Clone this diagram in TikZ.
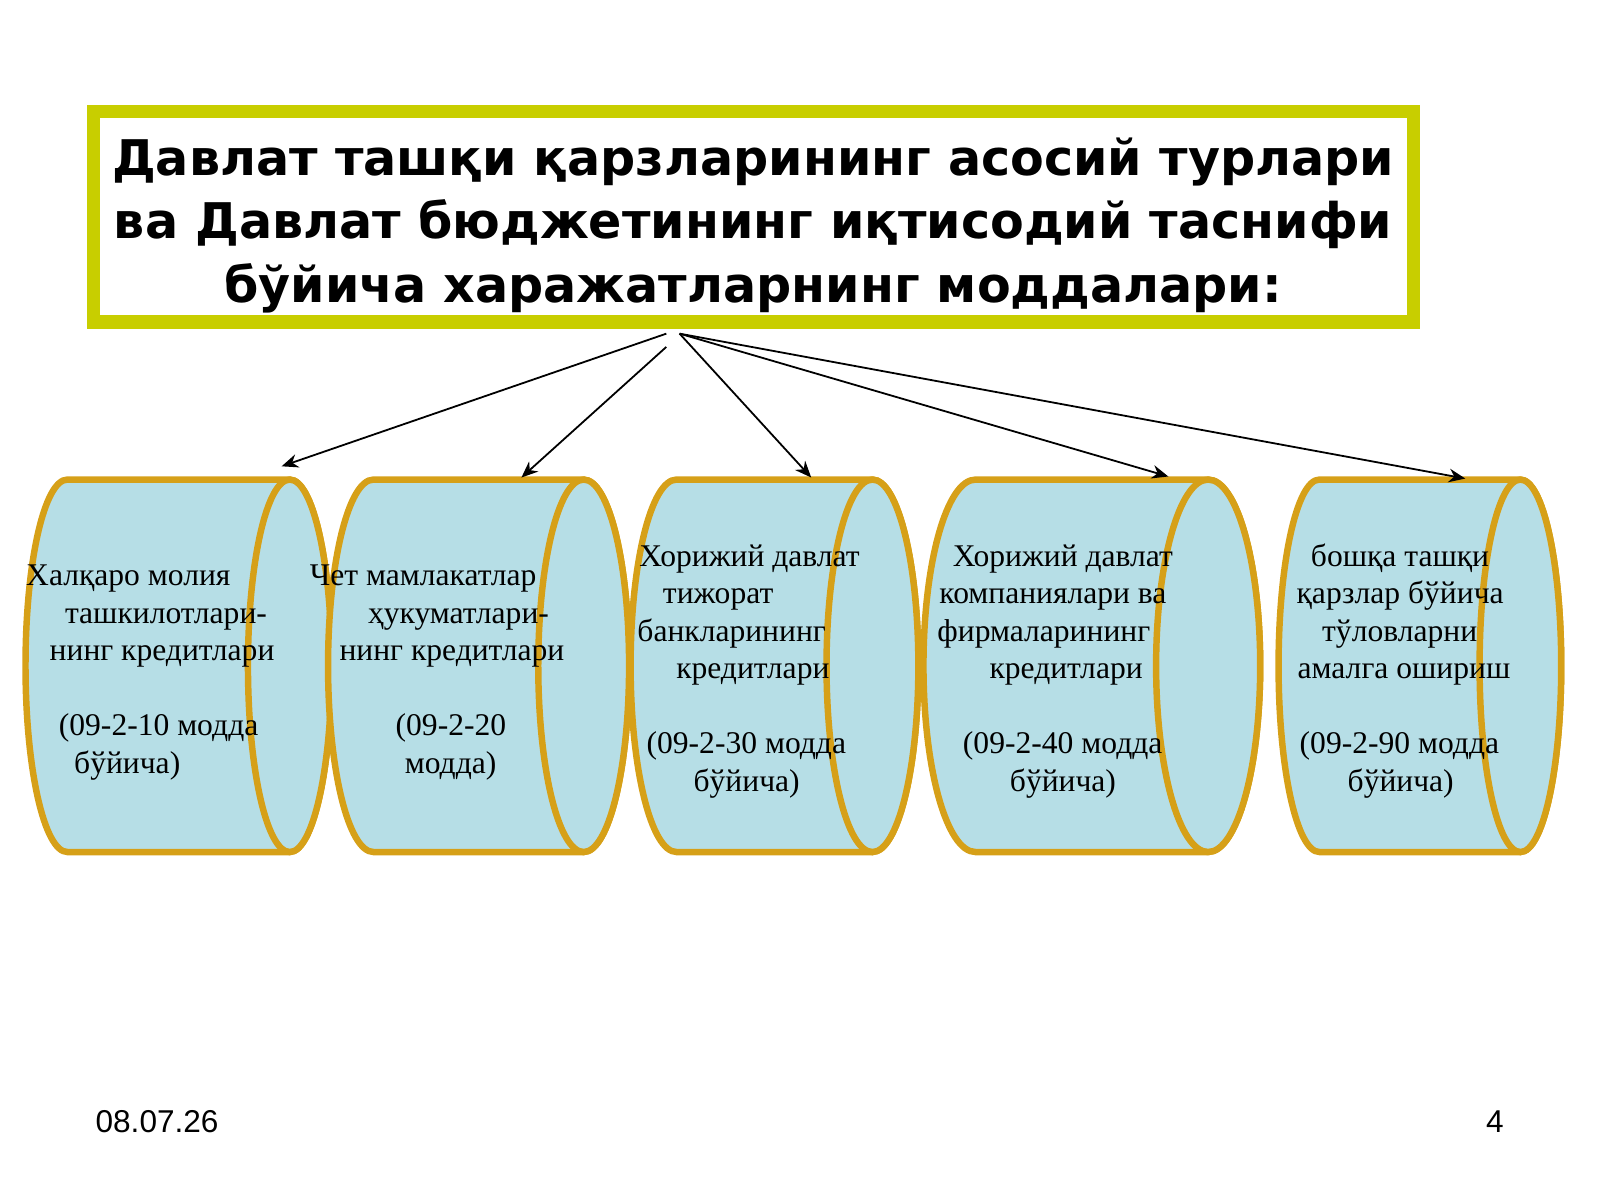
\documentclass[tikz,border=0pt]{standalone}
\usepackage{fontspec}
\usetikzlibrary{arrows.meta}
\setmainfont{Liberation Serif}
\newfontfamily\titlefont{DejaVu Sans}
\newfontfamily\footfont{Liberation Sans}
\definecolor{framegreen}{RGB}{200,206,0}
\definecolor{canfill}{RGB}{182,222,230}
\definecolor{canedge}{RGB}{214,160,24}
\newcommand\ind[1]{\hspace*{#1mm}}

\tikzset{
  can/.style={draw=canedge, fill=canfill, line width=1.8pt},
  credit/.style={anchor=base west, align=left, inner sep=0pt,
    font=\fontsize{8.8}{10.45}\selectfont},
  link/.style={->, line width=0.5pt},
  foot/.style={inner sep=0pt, font=\footfont\fontsize{8.8}{10}\selectfont},
}

\begin{document}
\begin{tikzpicture}[x=0.01cm, y=0.01cm, >={Stealth[length=4.6pt, width=3.8pt]}]
\useasboundingbox (0,0) rectangle (1568,1176);

% Title frame
\draw[framegreen, line width=3.7pt] (91.5,860.5) rectangle (1385.5,1066.5);
\node[align=center, inner sep=0pt,
  font=\titlefont\fontsize{13.7}{17.6}\bfseries\selectfont] (title) at (738,955)
  {Давлат ташқи қарзларининг асосий турлари\\
   ва Давлат бюджетининг иқтисодий таснифи\\
   бўйича харажатларнинг моддалари:};

% Cylinders
\foreach \xl/\xr/\rx in {66/284/41, 366/572/44.5, 663/855/45, 956/1184/51, 1293/1490/40} {
  \draw[can] (\xl,706) -- (\xr,706)
    arc[start angle=90, end angle=-90, x radius=\rx, y radius=182.5]
    -- (\xl,341)
    arc[start angle=270, end angle=90, x radius=\rx, y radius=182.5] -- cycle;
  \draw[can] (\xr,523.5) ellipse[x radius=\rx, y radius=182.5];
}

% Texts on the cylinders (anchored at the baseline of the last line)
\node[credit] (cred1) at (25,418)
  {Халқаро молия\\ \ind{3.8}ташкилотлари-\\ \ind{2.3}нинг кредитлари\\ \mbox{}\\
   \ind{3.2}(09-2-10 модда\\ \ind{4.7}бўйича)};
\node[credit] (cred2) at (303,418)
  {Чет мамлакатлар\\ \ind{5.7}ҳукуматлари-\\ \ind{2.9}нинг кредитлари\\ \mbox{}\\
   \ind{8.4}(09-2-20\\ \ind{9.3}модда)};
\node[credit] (cred3) at (624,400.5)
  {\ind{0.2}Хорижий давлат\\ \ind{2.5}тижорат\\ банкларининг\\ \ind{3.8}кредитлари\\ \mbox{}\\
   \ind{0.9}(09-2-30 модда\\ \ind{5.5}бўйича)};
\node[credit] (cred4) at (918,400.5)
  {\ind{1.5}Хорижий давлат\\ \ind{0.2}компаниялари ва\\ фирмаларининг\\ \ind{5.1}кредитлари\\ \mbox{}\\
   \ind{2.5}(09-2-40 модда\\ \ind{7.1}бўйича)};
\node[credit] (cred5) at (1270,400.5)
  {\ind{1.4}бошқа ташқи\\ қарзлар бўйича\\ \ind{2.5}тўловларни\\ \ind{0.1}амалга ошириш\\ \mbox{}\\
   \ind{0.3}(09-2-90 модда\\ \ind{5.0}бўйича)};

% Arrows from the title
\coordinate (fan left) at (653,849);
\coordinate (fan low) at (653,836);
\coordinate (fan right) at (666,849);
\coordinate (top1) at (276,719);
\coordinate (top2) at (511,708);
\coordinate (top3) at (795,708);
\coordinate (top4) at (1145,709);
\coordinate (top5) at (1436,707);
\draw[link] (fan left) -- (top1);
\draw[link] (fan low) -- (top2);
\draw[link] (fan right) -- (top3);
\draw[link] (fan right) -- (top4);
\draw[link] (fan right) -- (top5);

% Footer
\node[foot, anchor=base west] (date) at (93,66) {08.07.26};
\node[foot, anchor=base] (pagenum) at (1465,66) {4};

\end{tikzpicture}
\end{document}
